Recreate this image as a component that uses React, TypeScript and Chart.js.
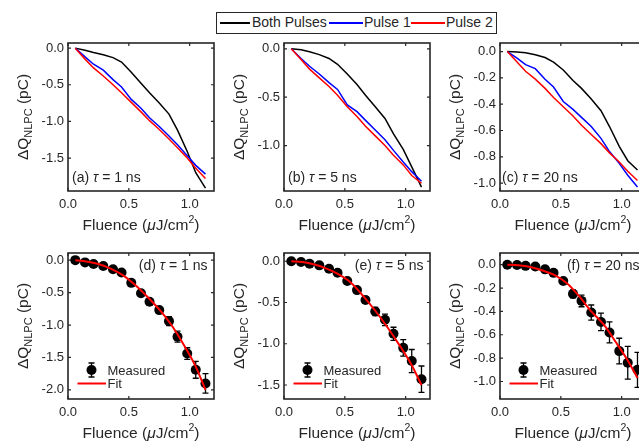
import React, { useEffect, useRef } from "react";
import { Chart, registerables } from "chart.js";
Chart.register(...registerables);

const FONT = "'Liberation Sans', Arial, Helvetica, sans-serif";
const INK = "#262626";

// ---- data ----
const fluence = [0.06, 0.14, 0.21, 0.29, 0.37, 0.44, 0.52, 0.6, 0.67, 0.75, 0.83, 0.9, 0.98, 1.05, 1.13];
const xTicks = [0, 0.5, 1.0];

const bothA = [0, -0.03, -0.06, -0.09, -0.13, -0.19, -0.33, -0.48, -0.61, -0.75, -0.9, -1.12, -1.41, -1.7, -1.91];
const pulse1A = [0, -0.12, -0.22, -0.3, -0.43, -0.53, -0.7, -0.82, -0.95, -1.07, -1.2, -1.32, -1.47, -1.6, -1.72];
const pulse2A = [0, -0.15, -0.27, -0.38, -0.5, -0.61, -0.74, -0.87, -0.99, -1.11, -1.24, -1.36, -1.5, -1.64, -1.78];

const bothB = [0, -0.01, -0.03, -0.06, -0.1, -0.16, -0.26, -0.37, -0.48, -0.6, -0.72, -0.88, -1.04, -1.22, -1.43];
const pulse1B = [0, -0.1, -0.18, -0.26, -0.35, -0.42, -0.58, -0.65, -0.74, -0.84, -0.94, -1.05, -1.17, -1.27, -1.37];
const pulse2B = [0, -0.11, -0.21, -0.3, -0.39, -0.48, -0.6, -0.7, -0.8, -0.9, -1.0, -1.1, -1.2, -1.31, -1.39];

const bothC = [0, -0.003, -0.01, -0.025, -0.045, -0.08, -0.14, -0.22, -0.28, -0.36, -0.45, -0.57, -0.72, -0.83, -0.9];
const pulse1C = [0, -0.05, -0.1, -0.13, -0.21, -0.27, -0.38, -0.44, -0.5, -0.57, -0.66, -0.76, -0.85, -0.94, -1.03];
const pulse2C = [0, -0.08, -0.15, -0.21, -0.28, -0.35, -0.42, -0.49, -0.56, -0.63, -0.7, -0.77, -0.84, -0.91, -0.98];

const fitX = [0.06, 0.15, 0.25, 0.35, 0.45, 0.55, 0.65, 0.75, 0.85, 0.95, 1.05, 1.13];

const measD = [0, -0.035, -0.06, -0.09, -0.14, -0.19, -0.35, -0.51, -0.64, -0.77, -0.94, -1.18, -1.44, -1.69, -1.9];
const errD = [0.01, 0.01, 0.01, 0.01, 0.015, 0.02, 0.025, 0.03, 0.04, 0.05, 0.07, 0.085, 0.09, 0.13, 0.15];
const fitD = [0, -0.02, -0.06, -0.13, -0.23, -0.38, -0.56, -0.76, -1.0, -1.3, -1.64, -2.0];

const measE = [0, -0.01, -0.03, -0.05, -0.09, -0.14, -0.24, -0.35, -0.47, -0.61, -0.71, -0.88, -1.05, -1.21, -1.43];
const errE = [0.01, 0.01, 0.01, 0.015, 0.015, 0.02, 0.025, 0.03, 0.04, 0.05, 0.07, 0.08, 0.1, 0.14, 0.16];
const fitE = [0, -0.01, -0.04, -0.09, -0.16, -0.26, -0.42, -0.6, -0.8, -1.02, -1.26, -1.5];

const measF = [0, -0.003, -0.01, -0.015, -0.04, -0.07, -0.14, -0.25, -0.31, -0.41, -0.49, -0.58, -0.74, -0.84, -0.9];
const errF = [0.01, 0.01, 0.01, 0.01, 0.015, 0.015, 0.02, 0.035, 0.05, 0.065, 0.075, 0.09, 0.11, 0.14, 0.15];
const fitF = [0, -0.005, -0.02, -0.05, -0.09, -0.16, -0.27, -0.4, -0.51, -0.66, -0.82, -0.97];

const yTicksA = [0, -0.5, -1.0, -1.5];
const yTicksB = [0, -0.5, -1.0];
const yTicksC = [0, -0.2, -0.4, -0.6, -0.8, -1.0];
const yTicksD = [0, -0.5, -1.0, -1.5, -2.0];
const yTicksE = [0, -0.5, -1.0, -1.5];
const yTicksF = [0, -0.2, -0.4, -0.6, -0.8, -1.0];

const legendLabels = ["Both Pulses", "Pulse 1", "Pulse 2"];
const legendColors = ["#000000", "#0000ff", "#ff0000"];

// ---- layout ----
const PW = 146;
const ML = 66; // canvas margin left of plot
const MT = 12;
const MR = 8;
const MB = 46;

type Panel = {
  id: string;
  left: number;
  top: number;
  height: number;
  yMin: number;
  yMax: number;
  yTicks: number[];
  label: [string, string, string];
  labelPos: "bl" | "tr";
  labelDx: number;
  kind: "lines" | "measured";
  lines?: number[][];
  meas?: number[];
  err?: number[];
  fit?: number[];
};

const panels: Panel[] = [
  { id: "a", left: 68, top: 43, height: 148, yMin: -1.95, yMax: 0.07, yTicks: yTicksA, label: ["(a) ", "τ", " = 1 ns"], labelPos: "bl", labelDx: 4, kind: "lines", lines: [bothA, pulse1A, pulse2A] },
  { id: "b", left: 284, top: 43, height: 148, yMin: -1.47, yMax: 0.06, yTicks: yTicksB, label: ["(b) ", "τ", " = 5 ns"], labelPos: "bl", labelDx: 4, kind: "lines", lines: [bothB, pulse1B, pulse2B] },
  { id: "c", left: 500, top: 43, height: 148, yMin: -1.06, yMax: 0.065, yTicks: yTicksC, label: ["(c) ", "τ", " = 20 ns"], labelPos: "bl", labelDx: 2, kind: "lines", lines: [bothC, pulse1C, pulse2C] },
  { id: "d", left: 68, top: 253, height: 146, yMin: -2.14, yMax: 0.11, yTicks: yTicksD, label: ["(d) ", "τ", " = 1 ns"], labelPos: "tr", labelDx: 6.5, kind: "measured", meas: measD, err: errD, fit: fitD },
  { id: "e", left: 284, top: 253, height: 146, yMin: -1.67, yMax: 0.1, yTicks: yTicksE, label: ["(e) ", "τ", " = 5 ns"], labelPos: "tr", labelDx: 6.5, kind: "measured", meas: measE, err: errE, fit: fitE },
  { id: "f", left: 500, top: 253, height: 146, yMin: -1.15, yMax: 0.1, yTicks: yTicksF, label: ["(f) ", "τ", " = 20 ns"], labelPos: "tr", labelDx: 6.5, kind: "measured", meas: measF, err: errF, fit: fitF },
];

type Seg = { t: string; font: string; dy?: number };

function segWidth(ctx: CanvasRenderingContext2D, segs: Seg[]) {
  let total = 0;
  const ws = segs.map((s) => {
    ctx.font = s.font;
    const w = ctx.measureText(s.t).width;
    total += w;
    return w;
  });
  return { total, ws };
}

function drawSegs(ctx: CanvasRenderingContext2D, segs: Seg[], x0: number, baseline: number) {
  const { ws } = segWidth(ctx, segs);
  let x = x0;
  segs.forEach((s, i) => {
    ctx.font = s.font;
    ctx.fillText(s.t, x, baseline + (s.dy || 0));
    x += ws[i];
  });
}

function panelPlugin(p: Panel) {
  return {
    id: "panel_" + p.id,
    beforeDatasetsDraw(chart: any) {
      if (p.kind !== "measured" || !p.meas || !p.err) return;
      const { ctx, chartArea: a } = chart;
      const xs = chart.scales.x;
      const ys = chart.scales.y;
      ctx.save();
      ctx.beginPath();
      ctx.rect(a.left, a.top, a.right - a.left, a.bottom - a.top);
      ctx.clip();
      ctx.strokeStyle = "#000";
      ctx.lineWidth = 1.3;
      fluence.forEach((fx, i) => {
        const px = xs.getPixelForValue(fx);
        const y1 = ys.getPixelForValue(p.meas![i] + p.err![i]);
        const y2 = ys.getPixelForValue(p.meas![i] - p.err![i]);
        ctx.beginPath();
        ctx.moveTo(px, y1);
        ctx.lineTo(px, y2);
        ctx.moveTo(px - 3, y1);
        ctx.lineTo(px + 3, y1);
        ctx.moveTo(px - 3, y2);
        ctx.lineTo(px + 3, y2);
        ctx.stroke();
      });
      ctx.restore();
    },
    afterDraw(chart: any) {
      const { ctx, chartArea: a } = chart;
      const xs = chart.scales.x;
      const ys = chart.scales.y;
      ctx.save();
      // frame
      ctx.strokeStyle = INK;
      ctx.lineWidth = 1.6;
      ctx.strokeRect(a.left, a.top, a.right - a.left, a.bottom - a.top);
      // inward ticks on all sides
      ctx.lineWidth = 1.2;
      ctx.beginPath();
      xs.ticks.forEach((t: any) => {
        const px = xs.getPixelForValue(t.value);
        ctx.moveTo(px, a.bottom);
        ctx.lineTo(px, a.bottom - 3);
        ctx.moveTo(px, a.top);
        ctx.lineTo(px, a.top + 3);
      });
      ys.ticks.forEach((t: any) => {
        const py = ys.getPixelForValue(t.value);
        ctx.moveTo(a.left, py);
        ctx.lineTo(a.left + 3, py);
        ctx.moveTo(a.right, py);
        ctx.lineTo(a.right - 3, py);
      });
      ctx.stroke();

      ctx.fillStyle = INK;
      ctx.textAlign = "left";
      ctx.textBaseline = "alphabetic";
      // x title
      const tf = `15.5px ${FONT}`;
      const xt: Seg[] = [
        { t: "Fluence (", font: tf },
        { t: "μ", font: `italic 15.5px ${FONT}` },
        { t: "J/cm", font: tf },
        { t: "2", font: `10.5px ${FONT}`, dy: -6.5 },
        { t: ")", font: tf },
      ];
      const xw = segWidth(ctx, xt).total;
      drawSegs(ctx, xt, (a.left + a.right) / 2 - xw / 2, a.bottom + 38.5);
      // y title
      const yt: Seg[] = [
        { t: "ΔQ", font: tf },
        { t: "NLPC", font: `11px ${FONT}`, dy: 4 },
        { t: " (pC)", font: tf },
      ];
      const yw = segWidth(ctx, yt).total;
      ctx.save();
      ctx.translate(a.left - 45.5, (a.top + a.bottom) / 2);
      ctx.rotate(-Math.PI / 2);
      drawSegs(ctx, yt, -yw / 2, 5.6);
      ctx.restore();

      // panel label
      const lf = `14px ${FONT}`;
      const lab: Seg[] = [
        { t: p.label[0], font: lf },
        { t: p.label[1], font: `italic 14px ${FONT}` },
        { t: p.label[2], font: lf },
      ];
      const lw = segWidth(ctx, lab).total;
      if (p.labelPos === "bl") {
        drawSegs(ctx, lab, a.left + p.labelDx, a.bottom - 9);
      } else {
        drawSegs(ctx, lab, a.right - p.labelDx - lw, a.top + 17);
      }

      // legend for measured panels
      if (p.kind === "measured") {
        const mx = a.left + 23.5;
        const my = a.bottom - 29;
        ctx.strokeStyle = "#000";
        ctx.lineWidth = 1.3;
        ctx.beginPath();
        ctx.moveTo(mx, my - 7);
        ctx.lineTo(mx, my + 7);
        ctx.moveTo(mx - 3, my - 7);
        ctx.lineTo(mx + 3, my - 7);
        ctx.moveTo(mx - 3, my + 7);
        ctx.lineTo(mx + 3, my + 7);
        ctx.stroke();
        ctx.fillStyle = "#000";
        ctx.beginPath();
        ctx.arc(mx, my, 5, 0, Math.PI * 2);
        ctx.fill();
        const fy = a.bottom - 15.5;
        ctx.strokeStyle = "#ff0000";
        ctx.lineWidth = 2;
        ctx.beginPath();
        ctx.moveTo(a.left + 9.5, fy);
        ctx.lineTo(a.left + 38, fy);
        ctx.stroke();
        ctx.fillStyle = INK;
        ctx.font = `13px ${FONT}`;
        ctx.fillText("Measured", a.left + 39.5, my + 4.7);
        ctx.fillText("Fit", a.left + 39.5, fy + 4.7);
      }
      ctx.restore();
    },
  };
}

function buildConfig(p: Panel): any {
  const datasets: any[] = [];
  if (p.kind === "lines" && p.lines) {
    // red drawn on top, then blue, then black
    [2, 1, 0].forEach((k) => {
      datasets.push({
        label: legendLabels[k],
        data: fluence.map((x, i) => ({ x, y: p.lines![k][i] })),
        borderColor: legendColors[k],
        borderWidth: 1.5,
        pointRadius: 0,
        fill: false,
        tension: 0,
      });
    });
  } else if (p.fit && p.meas) {
    datasets.push({
      label: "Fit",
      data: fitX.map((x, i) => ({ x, y: p.fit![i] })),
      borderColor: "#ff0000",
      borderWidth: 2,
      pointRadius: 0,
      fill: false,
      cubicInterpolationMode: "monotone",
    });
    datasets.push({
      label: "Measured",
      data: fluence.map((x, i) => ({ x, y: p.meas![i] })),
      showLine: false,
      pointRadius: 5,
      pointBackgroundColor: "#000",
      pointBorderColor: "#000",
      pointBorderWidth: 0,
      borderColor: "#000",
    });
  }
  const tickFont = { family: FONT, size: 13 };
  return {
    type: "line",
    data: { datasets },
    options: {
      animation: false,
      responsive: false,
      maintainAspectRatio: false,
      devicePixelRatio: 1,
      events: [],
      layout: { padding: { top: MT, right: MR, left: 0, bottom: 0 } },
      plugins: { legend: { display: false }, tooltip: { enabled: false }, title: { display: false } },
      scales: {
        x: {
          type: "linear",
          min: 0,
          max: 1.2,
          grid: { display: false, drawTicks: false },
          border: { display: false },
          afterBuildTicks: (s: any) => {
            s.ticks = xTicks.map((v) => ({ value: v }));
          },
          afterFit: (s: any) => {
            s.height = MB;
            s.paddingLeft = 0;
            s.paddingRight = 0;
          },
          ticks: {
            font: tickFont,
            color: INK,
            padding: 6,
            maxRotation: 0,
            autoSkip: false,
            callback: (v: any) => Number(v).toFixed(1),
          },
        },
        y: {
          type: "linear",
          min: p.yMin,
          max: p.yMax,
          grid: { display: false, drawTicks: false },
          border: { display: false },
          afterBuildTicks: (s: any) => {
            s.ticks = p.yTicks.map((v) => ({ value: v }));
          },
          afterFit: (s: any) => {
            s.width = ML;
            s.paddingTop = 0;
            s.paddingBottom = 0;
          },
          ticks: {
            font: tickFont,
            color: INK,
            padding: 4,
            autoSkip: false,
            callback: (v: any) => Number(v).toFixed(1),
          },
        },
      },
    },
    plugins: [panelPlugin(p)],
  };
}

function PanelChart({ p }: { p: Panel }) {
  const ref = useRef<HTMLCanvasElement>(null);
  useEffect(() => {
    if (!ref.current) return;
    const chart = new Chart(ref.current, buildConfig(p));
    return () => chart.destroy();
  }, [p]);
  const cw = ML + PW + MR;
  const ch = MT + p.height + MB;
  return (
    <canvas
      ref={ref}
      width={cw}
      height={ch}
      style={{ position: "absolute", left: p.left - ML, top: p.top - MT, width: cw, height: ch, display: "block" }}
    />
  );
}

function TopLegend() {
  const items = [
    { line: [3, 33], text: 35 },
    { line: [112, 146], text: 147 },
    { line: [194, 228], text: 229 },
  ];
  return (
    <div
      style={{
        position: "absolute",
        left: 216,
        top: 12,
        width: 281,
        height: 22,
        boxSizing: "border-box",
        border: `1.5px solid ${INK}`,
        background: "#fff",
        fontFamily: FONT,
        fontSize: 14,
        color: INK,
        zIndex: 2,
      }}
    >
      {items.map((it, i) => (
        <React.Fragment key={i}>
          <div
            style={{
              position: "absolute",
              left: it.line[0],
              width: it.line[1] - it.line[0],
              top: 9,
              height: 2,
              background: legendColors[i],
            }}
          />
          <div style={{ position: "absolute", left: it.text, top: 0, lineHeight: "19px", whiteSpace: "nowrap" }}>
            {legendLabels[i]}
          </div>
        </React.Fragment>
      ))}
    </div>
  );
}

export default function App() {
  return (
    <div
      style={{
        position: "fixed",
        left: 0,
        top: 0,
        width: 639,
        height: 443,
        overflow: "hidden",
        background: "#fff",
      }}
    >
      {panels.map((p) => (
        <PanelChart key={p.id} p={p} />
      ))}
      <TopLegend />
    </div>
  );
}
